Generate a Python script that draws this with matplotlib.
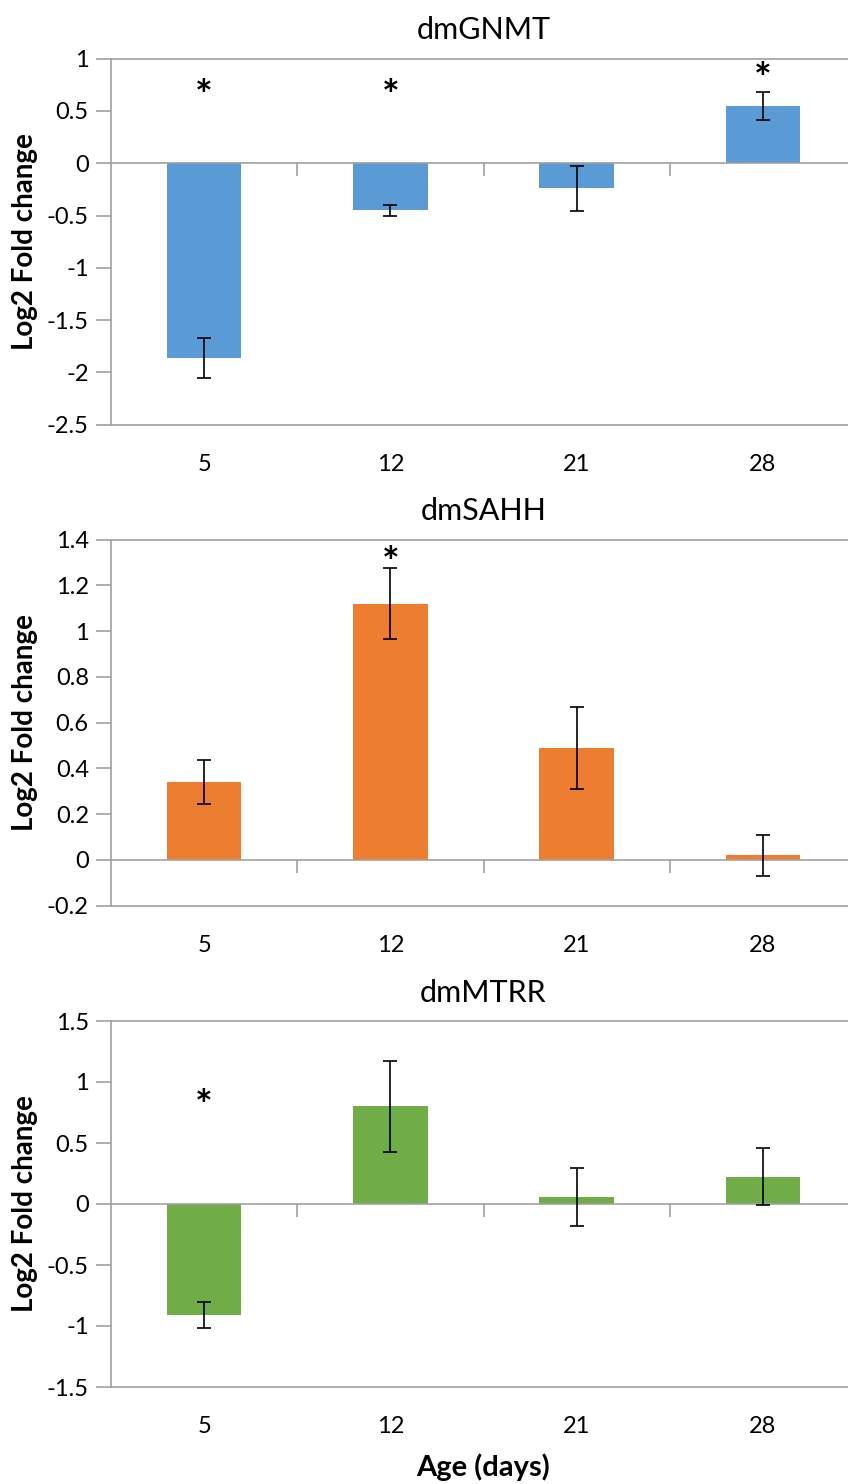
import matplotlib.pyplot as plt
from matplotlib.ticker import FixedLocator, FuncFormatter

# ages on x axis
days = ['5', '12', '21', '28']
genes = ['dmGNMT', 'dmSAHH', 'dmMTRR']

# log2 fold change, error bars, asterisk heights (None = no star)
gnmt_mean = [-1.86, -0.45, -0.24, 0.55]
gnmt_err = [0.19, 0.055, 0.215, 0.135]
gnmt_star = [0.73, 0.73, None, 0.89]

sahh_mean = [0.34, 1.12, 0.49, 0.02]
sahh_err = [0.095, 0.155, 0.18, 0.09]
sahh_star = [None, 1.34, None, None]

mtrr_mean = [-0.91, 0.80, 0.06, 0.225]
mtrr_err = [0.105, 0.375, 0.237, 0.23]
mtrr_star = [0.88, None, None, None]

ylims = [(-2.5, 1.0), (-0.2, 1.4), (-1.5, 1.5)]
ysteps = [0.5, 0.2, 0.5]
colors = ['#5B9BD5', '#ED7D31', '#70AD47']

means = [gnmt_mean, sahh_mean, mtrr_mean]
errs = [gnmt_err, sahh_err, mtrr_err]
stars = [gnmt_star, sahh_star, mtrr_star]

plt.rcParams['font.family'] = ['Lato', 'DejaVu Sans']
GRAY = '#a0a0a0'
W, H = 848, 1484

fig = plt.figure(figsize=(W / 100, H / 100), dpi=100)

tops = [58.7, 539.7, 1021]   # pixel rows of the panel tops
pan_h = 366
left_px = 111
pan_w = 745  # plot area runs slightly past the right edge, as in the source

for i in range(3):
    ax = fig.add_axes([left_px / W, 1 - (tops[i] + pan_h) / H,
                       pan_w / W, pan_h / H])
    x = list(range(len(days)))
    ax.bar(x, means[i], width=0.4, color=colors[i], zorder=2)
    ax.axhline(0, color=GRAY, lw=1.2, zorder=2.5)
    ax.errorbar(x, means[i], yerr=errs[i], fmt='none', ecolor='black',
                elinewidth=1.2, capsize=5, capthick=1.2, zorder=3)
    for xi, s in zip(x, stars[i]):
        if s is not None:
            ax.annotate('*', (xi, s), xytext=(0, -8), textcoords='offset points',
                        ha='center', va='center', fontsize=30,
                        fontweight='bold', zorder=4)

    lo, hi = ylims[i]
    ax.set_xlim(-0.5, len(days) - 0.5)
    ax.set_ylim(lo, hi)
    n = int(round((hi - lo) / ysteps[i]))
    ax.yaxis.set_major_locator(FixedLocator([lo + k * ysteps[i] for k in range(n + 1)]))
    ax.yaxis.set_major_formatter(FuncFormatter(lambda v, p: '%g' % round(v, 2)))
    ax.set_xticks(x)
    ax.set_xticklabels(days)

    for side in ['left', 'top', 'bottom']:
        ax.spines[side].set_color(GRAY)
        ax.spines[side].set_linewidth(1.2)
    ax.spines['right'].set_visible(False)
    ax.tick_params(axis='y', direction='out', length=11, width=1.2,
                   color=GRAY, labelsize=17, pad=5)
    ax.tick_params(axis='x', length=0, labelsize=17, pad=21)

    # category ticks on the zero line, between categories
    zero = ax.secondary_xaxis((0 - lo) / (hi - lo))
    zero.set_alignment('bottom')
    for sp in zero.spines.values():
        sp.set_visible(False)
    zero.set_xticks([0.5, 1.5, 2.5])
    zero.set_xticklabels([])
    zero.tick_params(direction='out', length=9, width=1.2, color=GRAY)

    ax.set_title(genes[i], fontsize=22, pad=14)
    ax.text(-0.115, 0.5, 'Log2 Fold change', transform=ax.transAxes,
            rotation=90, ha='center', va='center', fontsize=20,
            fontweight='bold')

fig.text(483 / W, 1 - 1467 / H, 'Age (days)', ha='center', va='center',
         fontsize=21, fontweight='bold')

plt.savefig('out.png', dpi=100)
